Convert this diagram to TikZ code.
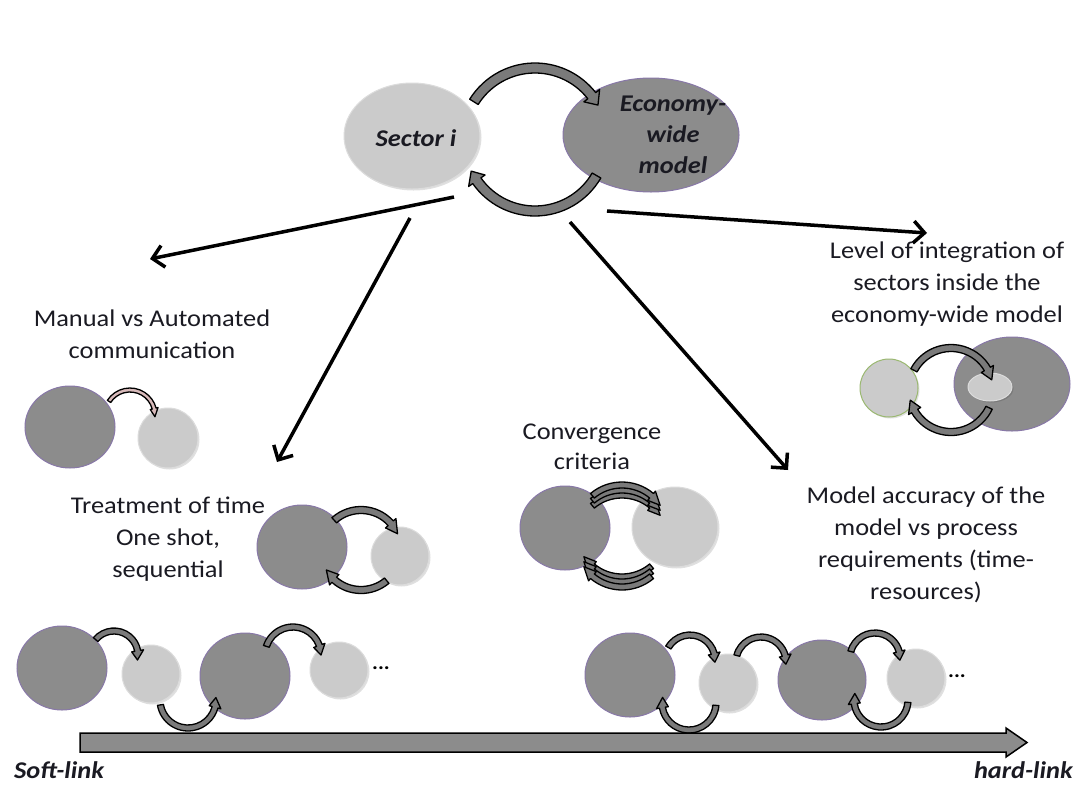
\documentclass[tikz,border=0pt]{standalone}
\usepackage{fontspec}
\setmainfont{Carlito}[FakeStretch=1.1]
\usetikzlibrary{shapes.geometric,arrows.meta,shadows}
\definecolor{darkg}{HTML}{8C8C8C}
\definecolor{purp}{HTML}{8878A8}
\definecolor{lightg}{HTML}{CBCBCB}
\definecolor{lightb}{HTML}{DCDCDC}
\definecolor{arcg}{HTML}{7A7A7A}
\definecolor{pinkg}{HTML}{D8BABA}
\definecolor{greenb}{HTML}{9AB870}
\definecolor{txt}{HTML}{1A1A22}
\newcommand{\blockarc}[8][arcg]{% fill, cx, cy(screen), r, a1, a2, w, tip
  \pgfmathsetmacro\BAro{#4+#7/2}\pgfmathsetmacro\BAri{#4-#7/2}%
  \pgfmathsetmacro\BArh{#4+#7}\pgfmathsetmacro\BArl{#4-#7}%
  \filldraw[barc,fill=#1,shift={(#2,-#3)}] ({#5}:{\BAro pt}) arc[start angle=#5,end angle=#6,radius=\BAro pt]
    -- ({#6}:{\BArh pt}) -- ({#8}:{#4 pt}) -- ({#6}:{\BArl pt}) -- ({#6}:{\BAri pt})
    arc[start angle=#6,end angle=#5,radius=\BAri pt] -- cycle;}
\tikzset{
  darkell/.style={ellipse, fill=darkg, draw=purp, line width=1pt, inner sep=0pt},
  lightell/.style={ellipse, fill=lightg, draw=lightb, line width=1pt, inner sep=0pt,
     drop shadow={shadow xshift=1.5pt, shadow yshift=-1.5pt, fill=black, opacity=0.12}},
  barc/.style={draw=black, line width=1.3pt, line join=round},
  lbl/.style={align=center, text=txt, font=\fontsize{24}{32}\selectfont, inner sep=0pt, anchor=north},
  ttl/.style={align=center, text=txt, font=\fontsize{24}{31}\selectfont\bfseries\itshape, inner sep=0pt},
  conn/.style={-{Straight Barb[length=11pt,width=22pt,line width=3.5pt]}, line width=3.5pt},
  dotsty/.style={font=\fontsize{20}{20}\selectfont\bfseries, inner sep=0pt}
}
\begin{document}
\begin{tikzpicture}[x=1pt,y=1pt]
\useasboundingbox (0,0) rectangle (1076,-785);
\fill[white] (0,0) rectangle (1076,-785);

% ---- top ----
\node[lightell, minimum width=136pt, minimum height=106pt] (sector) at (412,-136) {};
\node[darkell, minimum width=176pt, minimum height=114pt] (econ) at (651,-135) {};
\node[ttl] (sectxt) at (416,-138) {Sector i};
\node[ttl] (econtxt) at (673,-135) {Economy-\\wide\\model};
\blockarc{535}{140}{72}{148}{38}{10}{29}
\blockarc{535}{140}{71}{-30}{-145}{10}{-154}

% ---- straight connectors ----
\coordinate (s1) at (454,-197); \coordinate (e1) at (150,-259);
\coordinate (s2) at (410,-218); \coordinate (e2) at (277,-462);
\coordinate (s3) at (570,-222); \coordinate (e3) at (788,-470);
\coordinate (s4) at (607,-211); \coordinate (e4) at (927,-233);
\draw[conn] (s1) -- (e1);
\draw[conn] (s2) -- (e2);
\draw[conn] (s3) -- (e3);
\draw[conn] (s4) -- (e4);

% ---- labels ----
\node[lbl] (manual) at (152,-310) {Manual vs Automated\\communication};
\node[lbl] (treat) at (168,-497) {Treatment of time\\One shot,\\sequential};
\node[lbl, font=\fontsize{24}{30}\selectfont] (conv) at (592,-424) {Convergence\\criteria};
\node[lbl] (level) at (947,-242) {Level of integration of\\sectors inside the\\economy-wide model};
\node[lbl] (acc) at (926,-487) {Model accuracy of the\\model vs process\\requirements (time-\\resources)};

% ---- manual vs automated ----
\node[darkell, minimum width=90pt, minimum height=82pt] (m1) at (70,-427) {};
\node[lightell, minimum width=60pt, minimum height=60pt] (m2) at (168,-438) {};
\blockarc[pinkg]{130}{415}{25}{147}{15}{4}{-4}

% ---- treatment of time ----
\node[darkell, minimum width=90pt, minimum height=84pt] (t1) at (302,-547) {};
\node[lightell, minimum width=58pt, minimum height=58pt] (t2) at (400,-556) {};
\blockarc{361}{550}{40}{132}{42}{7}{24}
\blockarc{361}{550}{40}{-50}{-132}{7}{-150}

% ---- convergence ----
\node[darkell, minimum width=90pt, minimum height=84pt] (c1) at (565,-528) {};
\node[lightell, minimum width=86pt, minimum height=80pt] (c2) at (675,-527) {};
\blockarc{622}{541}{46}{130}{50}{6}{34}
\blockarc{622}{536}{46}{130}{50}{6}{34}
\blockarc{622}{531}{46}{130}{50}{6}{34}
\blockarc{622}{531}{46}{-50}{-130}{6}{-146}
\blockarc{622}{536}{46}{-50}{-130}{6}{-146}
\blockarc{622}{541}{46}{-50}{-130}{6}{-146}

% ---- level of integration ----
\node[lightell, draw=greenb, minimum width=58pt, minimum height=58pt] (l1) at (889,-388) {};
\node[darkell, minimum width=116pt, minimum height=94pt] (l2) at (1012,-384) {};
\node[lightell, minimum width=44pt, minimum height=28pt] (l3) at (990,-387) {};
\blockarc{951}{390}{42}{152}{30}{7}{14}
\blockarc{951}{390}{42}{-25}{-150}{7}{-166}

% ---- soft-link chain ----
\node[darkell, minimum width=90pt, minimum height=84pt] (a1) at (62,-668) {};
\node[lightell, minimum width=58pt, minimum height=58pt] (a2) at (151,-674) {};
\node[darkell, minimum width=90pt, minimum height=86pt] (a3) at (245,-676) {};
\node[lightell, minimum width=58pt, minimum height=56pt] (a4) at (339,-670) {};
\node[dotsty] (dots1) at (381,-668) {...};
\blockarc{114}{655}{24}{140}{10}{6}{-12}
\blockarc{188}{700}{28}{190}{345}{6}{365}
\blockarc{293}{655}{28}{162}{20}{6}{0}

% ---- hard-link chain ----
\node[darkell, minimum width=90pt, minimum height=84pt] (b1) at (630,-675) {};
\node[lightell, minimum width=58pt, minimum height=58pt] (b2) at (728,-683) {};
\node[darkell, minimum width=88pt, minimum height=80pt] (b3) at (822,-680) {};
\node[lightell, minimum width=58pt, minimum height=58pt] (b4) at (916,-678) {};
\node[dotsty] (dots2) at (957,-676) {...};
\blockarc{690}{660}{25}{150}{15}{6}{-5}
\blockarc{689}{703}{27}{-5}{-170}{6}{-192}
\blockarc{761}{662}{25}{165}{15}{6}{-5}
\blockarc{875}{658}{25}{165}{15}{6}{-5}
\blockarc{881}{700}{27}{-5}{-172}{6}{-194}

% ---- bottom bar ----
\filldraw[fill=darkg, draw=black, line width=1.5pt, line join=miter]
  (80,-733) -- (1006,-733) -- (1006,-728) -- (1027,-742.5) -- (1006,-757) -- (1006,-752) -- (80,-752) -- cycle;
\node[ttl, anchor=west] (soft) at (14,-770) {Soft-link};
\node[ttl, anchor=east] (hard) at (1073,-770) {hard-link};
\end{tikzpicture}
\end{document}
